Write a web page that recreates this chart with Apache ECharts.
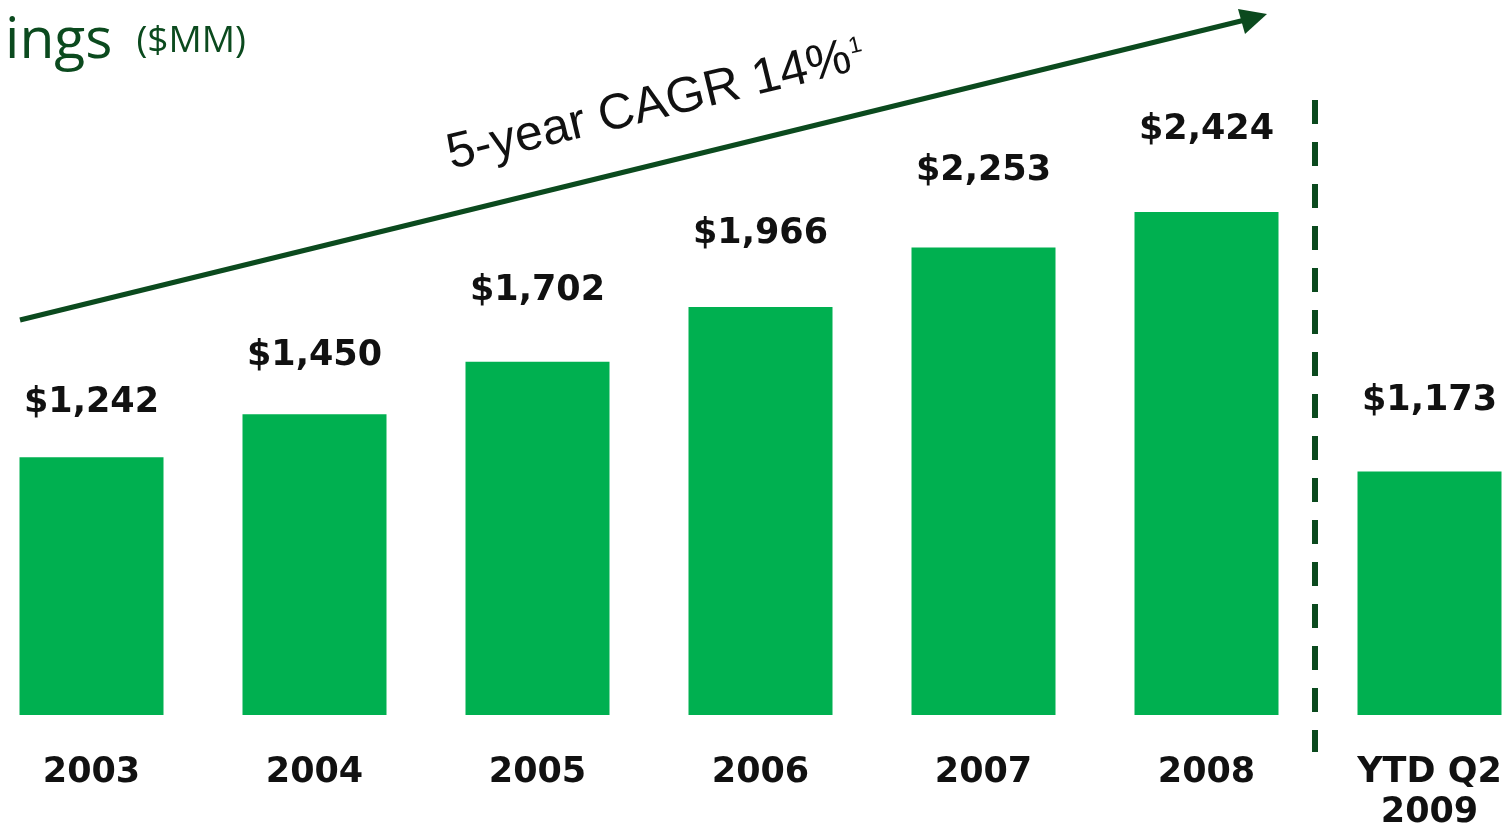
<!DOCTYPE html>
<html>
<head>
<meta charset="utf-8">
<script src="https://cdn.jsdelivr.net/npm/echarts@6/dist/echarts.min.js"></script>
<style>
  html, body { margin: 0; padding: 0; background: #fff; }
  #chart { width: 1505px; height: 826px; }
</style>
</head>
<body>
<div id="chart"></div>
<script>
var categories = ['2003', '2004', '2005', '2006', '2007', '2008', 'YTD Q2\n2009'];
var earnings = [1242, 1450, 1702, 1966, 2253, 2424, 1173];
var labelGap = [37, 41, 53, 56, 59, 65, 53];

var darkGreen = '#0b4a1e';
var barGreen = '#00b050';

var chart = echarts.init(document.getElementById('chart'));

var barData = earnings.map(function (v, i) {
    return {
        value: v,
        label: { distance: labelGap[i] }
    };
});

var option = {
    animation: false,
    title: {
        left: 0,
        top: 8,
        text: '{a|ings}{b|($MM)}',
        textStyle: {
            fontWeight: 'normal',
            rich: {
                a: { fontFamily: 'Open Sans', fontWeight: 'normal', fontSize: 57, color: darkGreen },
                b: { fontFamily: 'Open Sans', fontWeight: 'normal', fontSize: 37, color: darkGreen, padding: [0, 0, 0, 24] }
            }
        }
    },
    grid: {
        left: -20, right: -36, top: 0, bottom: 111,
        containLabel: false,
        outerBoundsMode: 'none'
    },
    xAxis: {
        type: 'category',
        data: categories,
        axisLine: { show: false },
        axisTick: { show: false },
        axisLabel: {
            margin: 38,
            color: '#111',
            fontFamily: 'DejaVu Sans',
            fontWeight: 'bold',
            fontSize: 35,
            lineHeight: 40
        }
    },
    yAxis: { type: 'value', min: 0, max: 3446, show: false },
    series: [{
        type: 'bar',
        data: barData,
        barWidth: 144,
        itemStyle: { color: barGreen },
        label: {
            show: true,
            position: 'top',
            color: '#111',
            fontFamily: 'DejaVu Sans',
            fontWeight: 'bold',
            fontSize: 35,
            formatter: function (p) {
                return '$' + p.value.toLocaleString('en-US');
            }
        }
    }],
    graphic: [
        {
            type: 'line',
            shape: { x1: 1315, y1: 100, x2: 1315, y2: 752 },
            style: { stroke: darkGreen, lineWidth: 6, lineDash: [24, 18] }
        },
        {
            type: 'line',
            shape: { x1: 20, y1: 320, x2: 1245, y2: 20 },
            style: { stroke: darkGreen, lineWidth: 5 }
        },
        {
            type: 'polygon',
            shape: { points: [[1267, 14], [1238, 9], [1245, 34]] },
            style: { fill: darkGreen }
        },
        {
            type: 'text',
            x: 454,
            y: 180,
            rotation: 13.7 * Math.PI / 180,
            style: {
                text: '{m|5-year CAGR 14%}{s|1}',
                textAlign: 'left',
                textVerticalAlign: 'bottom',
                rich: {
                    m: { fontFamily: 'Liberation Sans', fontSize: 50, fill: '#111' },
                    s: { fontFamily: 'Liberation Sans', fontSize: 23, fill: '#111', padding: [0, 0, 20, 1] }
                }
            }
        }
    ]
};

chart.setOption(option);
</script>
</body>
</html>
